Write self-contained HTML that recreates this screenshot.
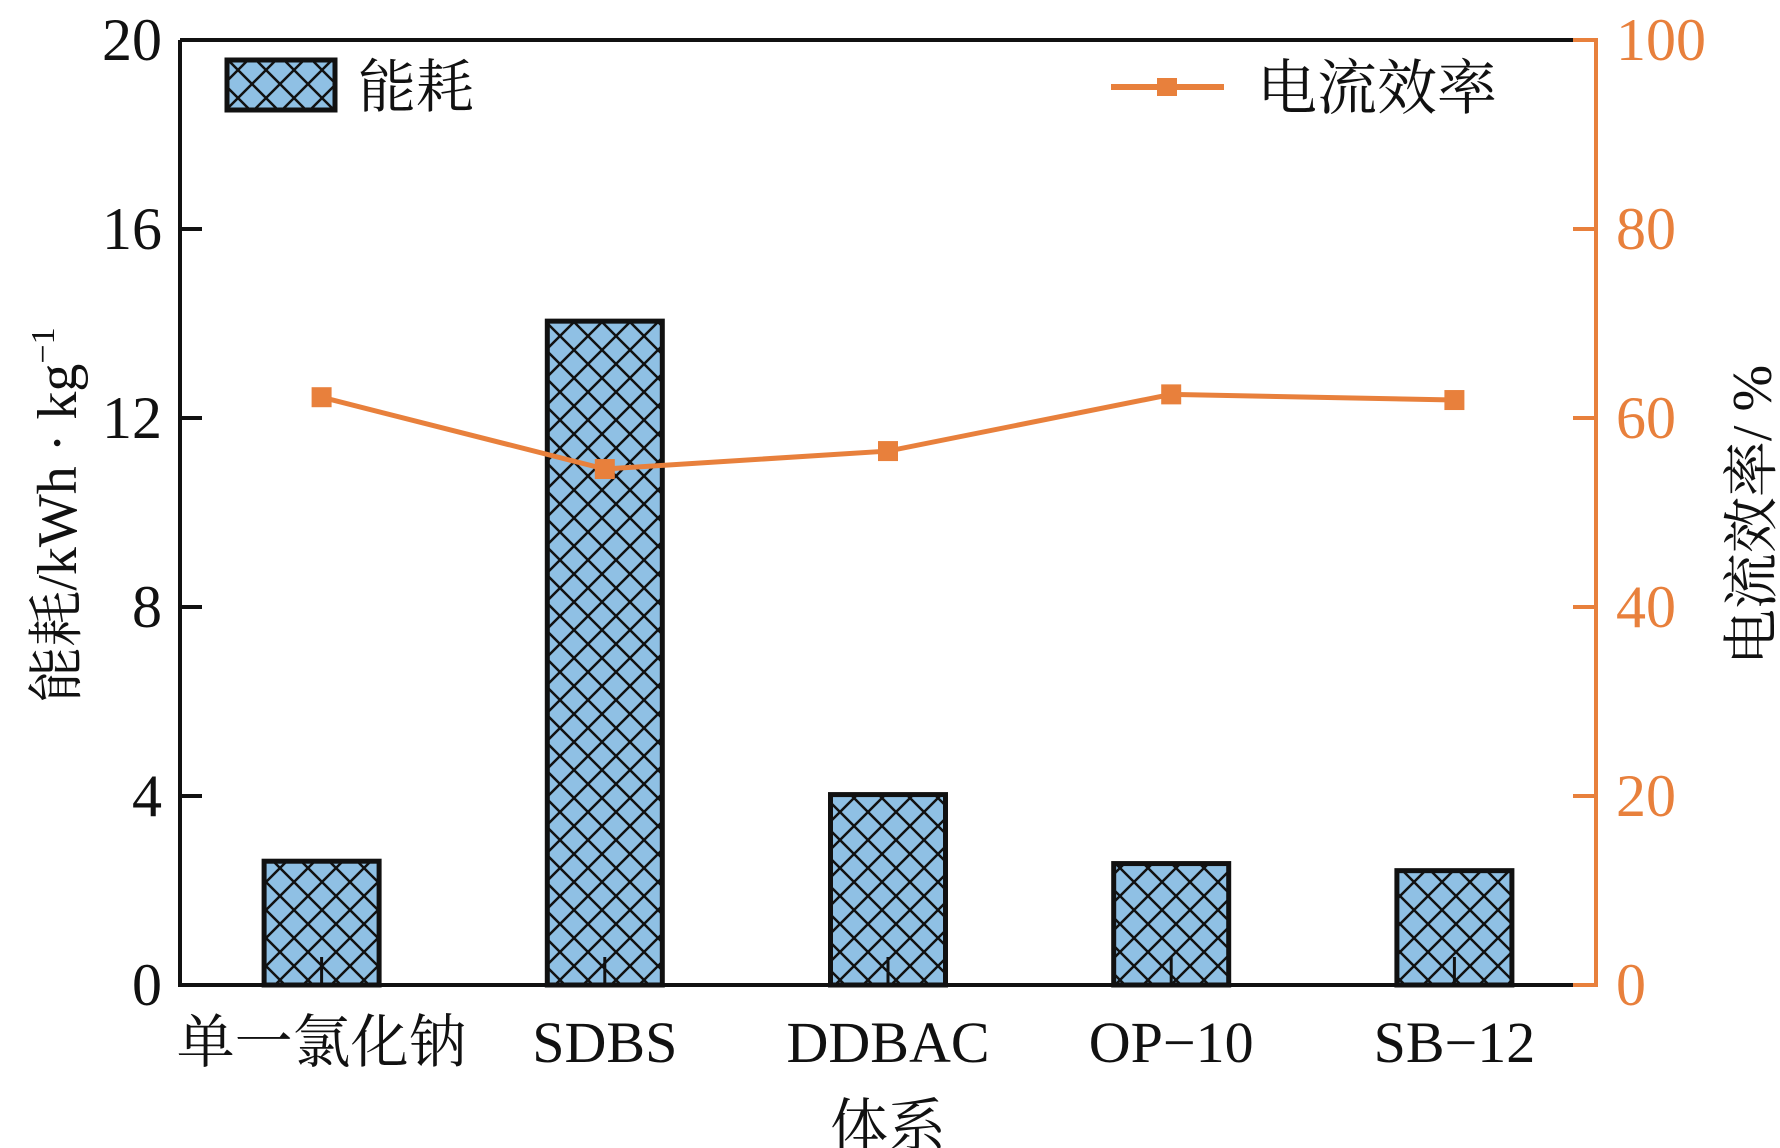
<!DOCTYPE html>
<html><head><meta charset="utf-8"><style>
html,body{margin:0;padding:0;background:#fff;}
svg{display:block;}
text{font-family:"Liberation Serif","Noto Serif CJK SC","Noto Sans CJK SC",serif;}
</style></head><body>
<svg id="chart" width="1780" height="1148" viewBox="0 0 1780 1148" xmlns="http://www.w3.org/2000/svg">
<defs>
<pattern id="hatch" patternUnits="userSpaceOnUse" width="28" height="28">
<rect width="28" height="28" fill="#8fc0e4"/>
<path d="M0,0 L28,28 M28,0 L0,28" stroke="#111" stroke-width="2.5"/>
</pattern>
</defs>
<g id="bars"></g>
<g id="axes"></g>
<g id="line"></g>
<g>
<rect x="227" y="60" width="108" height="50" fill="url(#hatch)" stroke="#111" stroke-width="5"/>
<text x="358" y="107" font-size="58" fill="#111">能耗</text>
<line x1="1111" y1="87" x2="1224" y2="87" stroke="#e8803c" stroke-width="6"/>
<rect x="1157" y="78" width="20" height="18" fill="#e8803c"/>
<text x="1257" y="109" font-size="60" fill="#111">电流效率</text>
</g>
<text transform="translate(76,515) rotate(-90)" text-anchor="middle" font-size="56" fill="#111">能耗/kWh · kg<tspan dy="-22" font-size="34">−1</tspan></text>
<text transform="translate(1771,515) rotate(-90)" text-anchor="middle" font-size="56" fill="#111">电流效率/ %</text>
<text x="888" y="1146" text-anchor="middle" font-size="58" fill="#111">体系</text>
</svg>
<script>
const categories = ["单一氯化钠","SDBS","DDBAC","OP−10","SB−12"];
const energyValues = [2.62, 14.05, 4.03, 2.57, 2.42];
const efficiencyValues = [62.2, 54.6, 56.5, 62.5, 61.9];
const leftTicks = [0,4,8,12,16,20];
const rightTicks = [0,20,40,60,80,100];

const NS="http://www.w3.org/2000/svg";
const X0=180, X1=1596, Y0=985, Y1=40;
const xBand=(X1-X0)/categories.length;
const xC=i=>X0+xBand*(i+0.5);
const yL=v=>Y0-(v/20)*(Y0-Y1);
const yR=v=>Y0-(v/100)*(Y0-Y1);
function mk(tag,attrs,parent){const e=document.createElementNS(NS,tag);for(const k in attrs)e.setAttribute(k,attrs[k]);parent.appendChild(e);return e;}
const bars=document.getElementById('bars'),axes=document.getElementById('axes'),line=document.getElementById('line');

energyValues.forEach((v,i)=>{
  const w=115;
  const r=mk('rect',{x:xC(i)-w/2,y:yL(v),width:w,height:Y0-yL(v),fill:'url(#hatch)',stroke:'#111','stroke-width':5},bars);
  
  
  const t=mk('line',{x1:xC(i),y1:Y0,x2:xC(i),y2:Y0-28,stroke:'#111','stroke-width':3},bars);
  
  
  const l=mk('text',{x:xC(i),y:1062,'text-anchor':'middle','font-size':58,fill:'#111'},axes);
  l.textContent=categories[i];
  
  
});

let f=mk('path',{d:`M${X0},${Y1} L${X1},${Y1} M${X0},${Y1} L${X0},${Y0} L${X1},${Y0}`,fill:'none',stroke:'#111','stroke-width':4},axes);


let ra=mk('line',{x1:X1,y1:Y1-2,x2:X1,y2:Y0+2,stroke:'#e8803c','stroke-width':4},axes);



leftTicks.forEach(v=>{
  const t=mk('line',{x1:X0,y1:yL(v),x2:X0+22,y2:yL(v),stroke:'#111','stroke-width':4},axes);
  
  
  const l=mk('text',{x:X0-18,y:yL(v)+20,'text-anchor':'end','font-size':60,fill:'#111'},axes);
  l.textContent=v;
  
  
});
rightTicks.forEach(v=>{
  const t=mk('line',{x1:X1-23,y1:yR(v),x2:X1,y2:yR(v),stroke:'#e8803c','stroke-width':4},axes);
  
  
  const l=mk('text',{x:X1+20,y:yR(v)+20,'text-anchor':'start','font-size':60,fill:'#e8803c'},axes);
  l.textContent=v;
  
  
});

const pts=efficiencyValues.map((v,i)=>xC(i)+','+yR(v)).join(' ');
const pl=mk('polyline',{points:pts,fill:'none',stroke:'#e8803c','stroke-width':5},line);


efficiencyValues.forEach((v,i)=>{
  const m=mk('rect',{x:xC(i)-10,y:yR(v)-10,width:20,height:20,fill:'#e8803c'},line);
  
  
});
</script>
</body></html>
